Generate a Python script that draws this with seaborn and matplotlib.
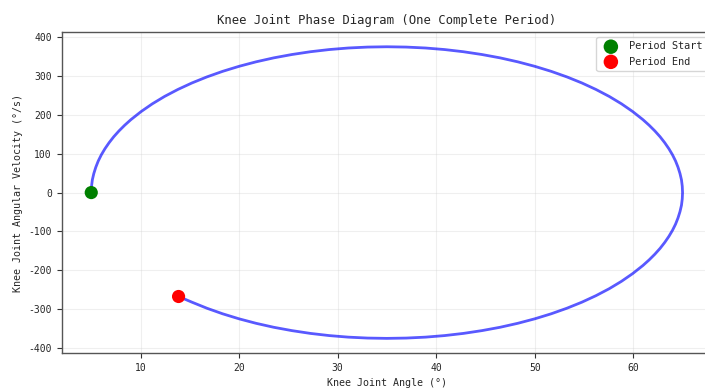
import matplotlib
matplotlib.use("Agg")
import matplotlib.pyplot as plt
import seaborn as sns
import pandas as pd

# Points (angle in degrees, angular velocity in deg/s)
knee_angle = [5.0, 5.03, 5.11, 5.26, 5.46, 5.71, 6.02, 6.39, 6.81, 7.28, 7.81, 8.39, 9.02,
              10.06, 11.20, 12.44, 13.79, 15.22, 16.74, 18.33, 20.0, 21.73, 23.52, 25.36,
              27.24, 29.15, 31.08, 33.04, 35.0, 36.96, 38.92, 40.85, 42.76, 44.64, 46.48,
              48.27, 50.0, 51.67, 53.26, 54.78, 56.21, 57.56, 58.80, 59.94,
              60.98, 61.61, 62.19, 62.72, 63.19, 63.61, 63.98, 64.29, 64.54, 64.74, 64.89, 64.97,
              65.0, 64.97, 64.89, 64.74, 64.54, 64.29, 63.98, 63.61, 63.19, 62.72, 62.19, 61.61,
              60.98, 59.94, 58.80, 57.56, 56.21, 54.78, 53.26, 51.67, 50.0, 48.27, 46.48,
              44.64, 42.76, 40.85, 38.92, 36.96, 35.0, 33.04, 31.08, 29.15, 27.24, 25.36,
              23.52, 21.73, 20.0, 18.33, 16.74, 15.22, 13.86]
knee_velocity = [0.0, 16.4, 32.8, 49.1, 65.3, 81.4, 97.3, 113.1, 128.6, 143.9, 158.9, 173.6, 188.0,
                 208.9, 228.9, 247.9, 265.9, 282.7, 298.3, 312.6, 325.6, 337.2, 347.4, 356.0,
                 363.2, 368.8, 372.8, 375.2, 376.0, 375.2, 372.8, 368.8, 363.2, 356.0, 347.4,
                 337.2, 325.6, 312.6, 298.3, 282.7, 265.9, 247.9, 228.9, 208.9,
                 188.0, 173.6, 158.9, 143.9, 128.6, 113.1, 97.3, 81.4, 65.3, 49.1, 32.8, 16.4,
                 0.0, -16.4, -32.8, -49.1, -65.3, -81.4, -97.3, -113.1, -128.6, -143.9, -158.9, -173.6,
                 -188.0, -208.9, -228.9, -247.9, -265.9, -282.7, -298.3, -312.6, -325.6, -337.2, -347.4,
                 -356.0, -363.2, -368.8, -372.8, -375.2, -376.0, -375.2, -372.8, -368.8, -363.2, -356.0,
                 -347.4, -337.2, -325.6, -312.6, -298.3, -282.7, -268.0]

start_point = (5.0, 0.0)
end_point = (13.86, -268.0)

title_text = "Knee Joint Phase Diagram (One Complete Period)"
xlabel_text = "Knee Joint Angle (°)"
ylabel_text = "Knee Joint Angular Velocity (°/s)"
start_label = "Period Start"
end_label = "Period End"

sns.set_style("white")
plt.rcParams["font.family"] = ["DejaVu Sans Mono", "DejaVu Sans"]
plt.rcParams["axes.unicode_minus"] = False

df = pd.DataFrame({"angle": knee_angle, "velocity": knee_velocity})

fig, ax = plt.subplots(figsize=(7.05, 3.92), dpi=100)
# the reference image is cropped on the right: axes extends slightly past the edge
fig.subplots_adjust(left=0.0875, right=1.0101, top=0.918, bottom=0.0995)

sns.lineplot(data=df, x="angle", y="velocity", sort=False, estimator=None,
             color="blue", alpha=0.65, linewidth=2, ax=ax)
ax.lines[0].set_solid_joinstyle("round")
sns.scatterplot(x=[start_point[0]], y=[start_point[1]], color="green", s=90,
                edgecolor="none", zorder=5, label=start_label, ax=ax)
sns.scatterplot(x=[end_point[0]], y=[end_point[1]], color="red", s=90,
                edgecolor="none", zorder=5, label=end_label, ax=ax)

ax.set_xlim(2.0, 68.0)
ax.set_ylim(-413.7, 413.7)
ax.set_xticks([10, 20, 30, 40, 50, 60])
ax.set_yticks([-400, -300, -200, -100, 0, 100, 200, 300, 400])

ax.set_title(title_text, fontsize=8.8)
ax.set_xlabel(xlabel_text, fontsize=7.2)
ax.set_ylabel(ylabel_text, fontsize=7.2)
ax.tick_params(axis="both", labelsize=7.0, length=3.5, width=0.8, direction="out",
               bottom=True, left=True, color="#333333")
for sp in ax.spines.values():
    sp.set_color("#555555")
    sp.set_linewidth(1.0)

ax.grid(True, alpha=0.3)
ax.legend(loc="upper right", fontsize=7.4, frameon=True, framealpha=0.8,
          borderpad=0.4, handletextpad=0.8, markerscale=1.1)

fig.savefig("out.png", dpi=100)
